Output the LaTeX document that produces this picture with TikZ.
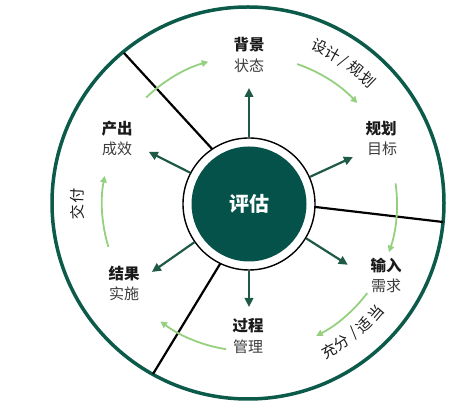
\documentclass[tikz,border=0pt]{standalone}
\usepackage{fontspec}
\setmainfont{Noto Sans CJK SC}
\usetikzlibrary{arrows.meta,calc}
\definecolor{dkgreen}{HTML}{0B5A4A}
\definecolor{fillgreen}{HTML}{04524A}
\definecolor{arrgreen}{HTML}{1F5A47}
\definecolor{ltgreen}{HTML}{95D07F}
\definecolor{labdark}{HTML}{1A1A1A}
\definecolor{labgray}{HTML}{3C3C3C}
\begin{document}
\begin{tikzpicture}[x=1pt,y=1pt,
  lab/.style={font=\fontsize{15.5}{15}\selectfont\bfseries, text=labdark, inner sep=0pt},
  sublab/.style={font=\fontsize{15}{15}\selectfont, text=labgray, inner sep=0pt},
  curvetxt/.style={font=\fontsize{15}{15}\selectfont, text=labdark, inner sep=0pt},
  darr/.style={draw=arrgreen, line width=2.2pt, -{Triangle[length=9pt,width=8.5pt]}},
  larr/.style={draw=ltgreen, line width=1.8pt, -{Triangle[length=6.5pt,width=6.5pt]}},
  divider/.style={draw=black, line width=2.2pt}]
\useasboundingbox (0,0) rectangle (469,406);
\coordinate (C) at (249,202);
% outer circle
\node[circle, draw=dkgreen, line width=3.5pt, minimum size=392pt, inner sep=0pt] (outer) at (248,203) {};
% dividers
\coordinate (d1o) at (124,353); \coordinate (d1i) at (225,243);
\coordinate (d2o) at (443,184); \coordinate (d2i) at (290,202);
\coordinate (d3o) at (153,32);  \coordinate (d3i) at (231,160);
\draw[divider] (d1o) -- (d1i);
\draw[divider] (d2o) -- (d2i);
\draw[divider] (d3o) -- (d3i);
% central ring and core
\node[circle, draw=black, line width=1.4pt, fill=white, minimum size=132pt, inner sep=0pt] (ring) at (C) {};
\node[circle, fill=fillgreen, minimum size=115pt, inner sep=0pt, text=white,
      font=\fontsize{20}{20}\selectfont\bfseries] (core) at (C) {评估};
% dark arrows
\coordinate (t1) at ($(C)+(90:116)$);
\coordinate (t2) at ($(C)+(24.3:114)$);
\coordinate (t3) at ($(C)+(-31.6:116)$);
\coordinate (t4) at ($(C)+(-90:103)$);
\coordinate (t5) at ($(C)+(215:118.5)$);
\coordinate (t6) at ($(C)+(152.5:113)$);
\draw[darr] (ring.90) -- (t1);
\draw[darr] (ring.24.3) -- (t2);
\draw[darr] (ring.-31.6) -- (t3);
\draw[darr] (ring.-90) -- (t4);
\draw[darr] (ring.215) -- (t5);
\draw[darr] (ring.152.5) -- (t6);
% light green cycle arcs
\coordinate (g1) at ($(C)+(134:148)$);
\coordinate (g2) at ($(C)+(71:148)$);
\coordinate (g3) at ($(C)+(8:148)$);
\coordinate (g4) at ($(C)+(-37:148)$);
\coordinate (g5) at ($(C)+(-99:147)$);
\coordinate (g6) at ($(C)+(197:147)$);
\draw[larr] (g1) arc[start angle=134, end angle=106, radius=148];
\draw[larr] (g2) arc[start angle=71, end angle=43, radius=148];
\draw[larr] (g3) arc[start angle=8, end angle=-19, radius=148];
\draw[larr] (g4) arc[start angle=-37, end angle=-63, radius=148];
\draw[larr] (g5) arc[start angle=-99, end angle=-127, radius=147];
\draw[larr] (g6) arc[start angle=197, end angle=169, radius=147];
% stage labels
\node[lab] (bg) at (249,361.5) {背景};
\node[sublab] (bgs) at (249,340.5) {状态};
\node[lab] (gh) at (381,277.5) {规划};
\node[sublab] (ghs) at (382,257) {目标};
\node[lab] (sr) at (386,140.5) {输入};
\node[sublab] (srs) at (386,120) {需求};
\node[lab] (gc) at (248,80.5) {过程};
\node[sublab] (gcs) at (248,59) {管理};
\node[lab] (jg) at (124,132.5) {结果};
\node[sublab] (jgs) at (124,112) {实施};
\node[lab] (cc) at (117,277.5) {产出};
\node[sublab] (ccs) at (117,257) {成效};
% curved texts
\node[curvetxt, rotate=-24.1] (s1) at ($(C)+(65.9:172)$) {设};
\node[curvetxt, rotate=-29.1] (s2) at ($(C)+(60.9:172)$) {计};
\node[curvetxt, rotate=-33.7] (s3) at ($(C)+(56.3:171)$) {/};
\node[curvetxt, rotate=-38.3] (s4) at ($(C)+(51.7:172)$) {规};
\node[curvetxt, rotate=-43.8] (s5) at ($(C)+(46.2:172)$) {划};
\node[curvetxt, rotate=28.7] (b1) at ($(C)+(-61.3:167)$) {充};
\node[curvetxt, rotate=33.8] (b2) at ($(C)+(-56.2:167)$) {分};
\node[curvetxt, rotate=39.1] (b3) at ($(C)+(-50.9:166)$) {/};
\node[curvetxt, rotate=43.3] (b4) at ($(C)+(-46.7:167)$) {适};
\node[curvetxt, rotate=49.3] (b5) at ($(C)+(-40.7:168)$) {当};
\node[curvetxt, rotate=92.7] (z1) at ($(C)+(182.7:172)$) {交};
\node[curvetxt, rotate=87.3] (z2) at ($(C)+(177.3:172)$) {付};
\end{tikzpicture}
\end{document}
